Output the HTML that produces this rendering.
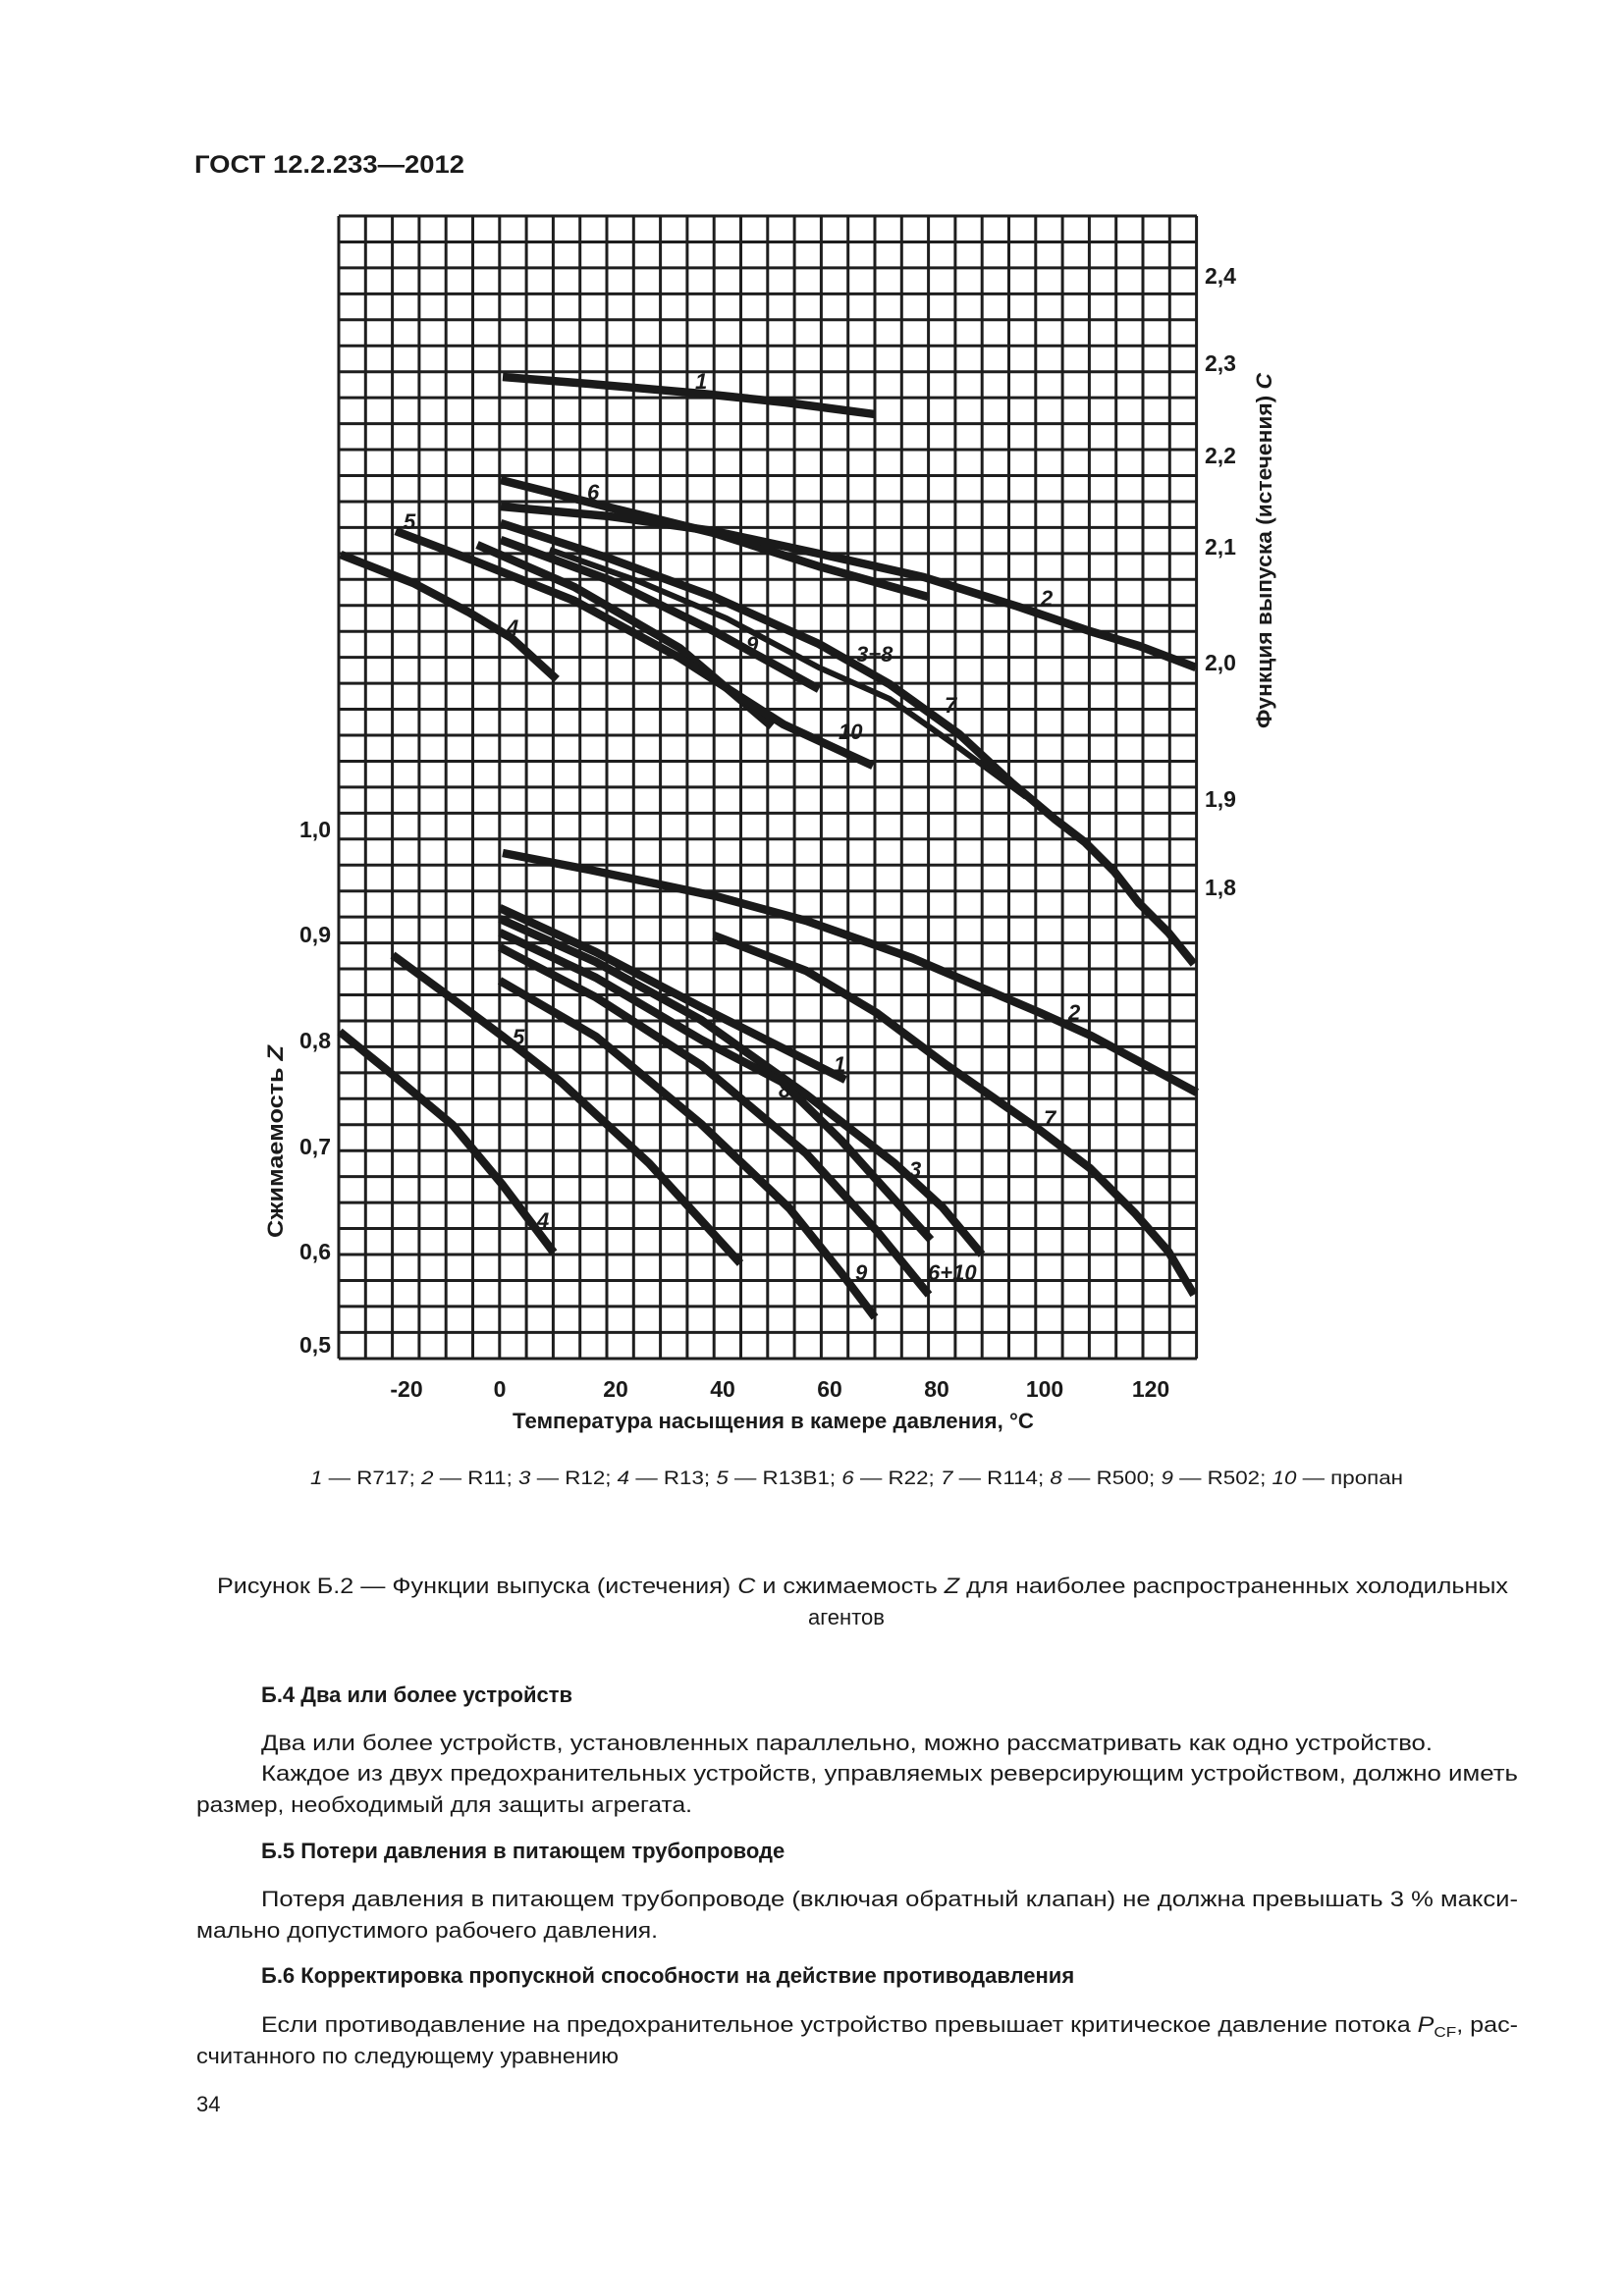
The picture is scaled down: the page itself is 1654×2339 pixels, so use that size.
<!DOCTYPE html>
<html><head><meta charset="utf-8"><style>
html,body{margin:0;padding:0;background:#fff}
svg{display:block}
text{font-family:"Liberation Sans",Arial,sans-serif;fill:#1a1a1a}
.b{font-weight:bold}
.lab{font-weight:bold;font-style:italic;font-size:22px}
.tk{font-weight:bold;font-size:23px}
.body{font-size:22px}
</style></head><body>
<svg width="1654" height="2339" viewBox="0 0 1654 2339" xmlns="http://www.w3.org/2000/svg">
<rect width="1654" height="2339" fill="#fff"/>
<text x="198" y="176" class="b" font-size="25" textLength="275" lengthAdjust="spacingAndGlyphs">ГОСТ 12.2.233—2012</text>

<g stroke="#1e1e1e" stroke-width="3">
<line x1="345" y1="220" x2="345" y2="1384"/><line x1="372.3" y1="220" x2="372.3" y2="1384"/><line x1="399.6" y1="220" x2="399.6" y2="1384"/><line x1="426.9" y1="220" x2="426.9" y2="1384"/><line x1="454.2" y1="220" x2="454.2" y2="1384"/><line x1="481.5" y1="220" x2="481.5" y2="1384"/><line x1="508.8" y1="220" x2="508.8" y2="1384"/><line x1="536.1" y1="220" x2="536.1" y2="1384"/><line x1="563.4" y1="220" x2="563.4" y2="1384"/><line x1="590.7" y1="220" x2="590.7" y2="1384"/><line x1="618" y1="220" x2="618" y2="1384"/><line x1="645.3" y1="220" x2="645.3" y2="1384"/><line x1="672.6" y1="220" x2="672.6" y2="1384"/><line x1="699.9" y1="220" x2="699.9" y2="1384"/><line x1="727.2" y1="220" x2="727.2" y2="1384"/><line x1="754.5" y1="220" x2="754.5" y2="1384"/><line x1="781.8" y1="220" x2="781.8" y2="1384"/><line x1="809.1" y1="220" x2="809.1" y2="1384"/><line x1="836.4" y1="220" x2="836.4" y2="1384"/><line x1="863.7" y1="220" x2="863.7" y2="1384"/><line x1="891" y1="220" x2="891" y2="1384"/><line x1="918.3" y1="220" x2="918.3" y2="1384"/><line x1="945.6" y1="220" x2="945.6" y2="1384"/><line x1="972.9" y1="220" x2="972.9" y2="1384"/><line x1="1000.2" y1="220" x2="1000.2" y2="1384"/><line x1="1027.5" y1="220" x2="1027.5" y2="1384"/><line x1="1054.8" y1="220" x2="1054.8" y2="1384"/><line x1="1082.1" y1="220" x2="1082.1" y2="1384"/><line x1="1109.4" y1="220" x2="1109.4" y2="1384"/><line x1="1136.7" y1="220" x2="1136.7" y2="1384"/><line x1="1164" y1="220" x2="1164" y2="1384"/><line x1="1191.3" y1="220" x2="1191.3" y2="1384"/><line x1="1218.6" y1="220" x2="1218.6" y2="1384"/>
<line x1="345" x2="1219" y1="220" y2="220"/><line x1="345" x2="1219" y1="246.45" y2="246.45"/><line x1="345" x2="1219" y1="272.9" y2="272.9"/><line x1="345" x2="1219" y1="299.35" y2="299.35"/><line x1="345" x2="1219" y1="325.8" y2="325.8"/><line x1="345" x2="1219" y1="352.25" y2="352.25"/><line x1="345" x2="1219" y1="378.7" y2="378.7"/><line x1="345" x2="1219" y1="405.15" y2="405.15"/><line x1="345" x2="1219" y1="431.6" y2="431.6"/><line x1="345" x2="1219" y1="458.05" y2="458.05"/><line x1="345" x2="1219" y1="484.5" y2="484.5"/><line x1="345" x2="1219" y1="510.95" y2="510.95"/><line x1="345" x2="1219" y1="537.4" y2="537.4"/><line x1="345" x2="1219" y1="563.85" y2="563.85"/><line x1="345" x2="1219" y1="590.3" y2="590.3"/><line x1="345" x2="1219" y1="616.75" y2="616.75"/><line x1="345" x2="1219" y1="643.2" y2="643.2"/><line x1="345" x2="1219" y1="669.65" y2="669.65"/><line x1="345" x2="1219" y1="696.1" y2="696.1"/><line x1="345" x2="1219" y1="722.55" y2="722.55"/><line x1="345" x2="1219" y1="749" y2="749"/><line x1="345" x2="1219" y1="775.45" y2="775.45"/><line x1="345" x2="1219" y1="801.9" y2="801.9"/><line x1="345" x2="1219" y1="828.35" y2="828.35"/><line x1="345" x2="1219" y1="854.8" y2="854.8"/><line x1="345" x2="1219" y1="881.25" y2="881.25"/><line x1="345" x2="1219" y1="907.7" y2="907.7"/><line x1="345" x2="1219" y1="934.15" y2="934.15"/><line x1="345" x2="1219" y1="960.6" y2="960.6"/><line x1="345" x2="1219" y1="987.05" y2="987.05"/><line x1="345" x2="1219" y1="1013.5" y2="1013.5"/><line x1="345" x2="1219" y1="1039.95" y2="1039.95"/><line x1="345" x2="1219" y1="1066.4" y2="1066.4"/><line x1="345" x2="1219" y1="1092.85" y2="1092.85"/><line x1="345" x2="1219" y1="1119.3" y2="1119.3"/><line x1="345" x2="1219" y1="1145.75" y2="1145.75"/><line x1="345" x2="1219" y1="1172.2" y2="1172.2"/><line x1="345" x2="1219" y1="1198.65" y2="1198.65"/><line x1="345" x2="1219" y1="1225.1" y2="1225.1"/><line x1="345" x2="1219" y1="1251.55" y2="1251.55"/><line x1="345" x2="1219" y1="1278" y2="1278"/><line x1="345" x2="1219" y1="1304.45" y2="1304.45"/><line x1="345" x2="1219" y1="1330.9" y2="1330.9"/><line x1="345" x2="1219" y1="1357.35" y2="1357.35"/><line x1="345" x2="1219" y1="1384" y2="1384"/>
</g>

<g stroke="#1a1a1a" stroke-width="8.5" fill="none" stroke-linejoin="round">
<polyline points="512,384 600,391 715,401 800,410 891,422"/>
<polyline points="510,489 617,516 727,543 834,577 945,608"/>
<polyline points="510,516 621,526 727,541 834,564 941,588 1037,618 1110,643 1160,658 1218,680"/>
<polyline points="510,533 621,569 727,608 834,656 906,697 977,748 1031,798 1075,835 1105,858 1135,888 1160,920 1190,950 1216,982"/>
<polyline points="560,560 650,592 740,630 834,680 906,712 977,762 1045,812" stroke-width="6"/>
<polyline points="510,550 621,591 727,643 834,702"/>
<polyline points="486,555 585,598 692,660 786,740"/>
<polyline points="403,541 482,571 585,612 692,670 798,738 889,780"/>
<polyline points="347,565 421,594 478,624 521,650 567,692"/>
<polyline points="512,869 600,886 729,913 821,938 929,976 1060,1032 1111,1055 1219,1113"/>
<polyline points="727,953 821,989 893,1032 964,1085 1060,1152 1110,1190 1156,1236 1190,1275 1216,1319"/>
<polyline points="509,925 607,970 714,1026 861,1100"/>
<polyline points="509,936 607,980 714,1039 821,1115 911,1185 960,1230 1000,1278"/>
<polyline points="509,950 607,996 714,1059 796,1102 857,1162 900,1210 948,1263"/>
<polyline points="509,965 607,1016 714,1085 821,1175 893,1254 946,1319"/>
<polyline points="509,999 607,1056 714,1145 804,1231 857,1297 891,1342"/>
<polyline points="400,973 460,1017 511,1055 571,1102 661,1185 754,1287"/>
<polyline points="346,1051 400,1095 461,1146 511,1206 564,1276"/>
</g>

<g class="lab">
<text x="708" y="396">1</text>
<text x="598" y="509">6</text>
<text x="411" y="539">5</text>
<text x="1060" y="617">2</text>
<text x="516" y="647">4</text>
<text x="760" y="664">9</text>
<text x="872" y="674">3+8</text>
<text x="962" y="726">7</text>
<text x="854" y="753">10</text>
<text x="1088" y="1039">2</text>
<text x="522" y="1064">5</text>
<text x="849" y="1092">1</text>
<text x="793" y="1118">8</text>
<text x="1063" y="1147">7</text>
<text x="926" y="1199">3</text>
<text x="547" y="1251">4</text>
<text x="871" y="1304">9</text>
<text x="945" y="1304">6+10</text>
</g>

<g class="tk" text-anchor="end">
<text x="337" y="853">1,0</text>
<text x="337" y="960">0,9</text>
<text x="337" y="1068">0,8</text>
<text x="337" y="1176">0,7</text>
<text x="337" y="1283">0,6</text>
<text x="337" y="1378">0,5</text>
</g>
<g class="tk">
<text x="1227" y="289">2,4</text>
<text x="1227" y="378">2,3</text>
<text x="1227" y="472">2,2</text>
<text x="1227" y="565">2,1</text>
<text x="1227" y="683">2,0</text>
<text x="1227" y="822">1,9</text>
<text x="1227" y="912">1,8</text>
</g>
<g class="tk" text-anchor="middle">
<text x="414" y="1423">-20</text>
<text x="509" y="1423">0</text>
<text x="627" y="1423">20</text>
<text x="736" y="1423">40</text>
<text x="845" y="1423">60</text>
<text x="954" y="1423">80</text>
<text x="1064" y="1423">100</text>
<text x="1172" y="1423">120</text>
</g>
<text x="522" y="1455" class="b" font-size="22" textLength="531" lengthAdjust="spacingAndGlyphs">Температура насыщения в камере давления, °С</text>
<text transform="translate(1295,742) rotate(-90)" class="b" font-size="22" textLength="362" lengthAdjust="spacingAndGlyphs">Функция выпуска (истечения) <tspan font-style="italic">C</tspan></text>
<text transform="translate(288,1261) rotate(-90)" class="b" font-size="22" textLength="196" lengthAdjust="spacingAndGlyphs">Сжимаемость <tspan font-style="italic">Z</tspan></text>

<text x="316" y="1512" font-size="19" textLength="1113" lengthAdjust="spacingAndGlyphs"><tspan font-style="italic">1</tspan> — R717; <tspan font-style="italic">2</tspan> — R11; <tspan font-style="italic">3</tspan> — R12; <tspan font-style="italic">4</tspan> — R13; <tspan font-style="italic">5</tspan> — R13B1; <tspan font-style="italic">6</tspan> — R22; <tspan font-style="italic">7</tspan> — R114; <tspan font-style="italic">8</tspan> — R500; <tspan font-style="italic">9</tspan> — R502; <tspan font-style="italic">10</tspan> — пропан</text>

<text x="221" y="1623" class="body" textLength="1315" lengthAdjust="spacingAndGlyphs">Рисунок Б.2 — Функции выпуска (истечения) <tspan font-style="italic">C</tspan> и сжимаемость <tspan font-style="italic">Z</tspan> для наиболее распространенных холодильных</text>
<text x="862" y="1655" class="body" text-anchor="middle">агентов</text>

<text x="266" y="1734" class="body b">Б.4 Два или более устройств</text>
<text x="266" y="1783" class="body" textLength="1193" lengthAdjust="spacingAndGlyphs">Два или более устройств, установленных параллельно, можно рассматривать как одно устройство.</text>
<text x="266" y="1814" class="body" textLength="1280" lengthAdjust="spacingAndGlyphs">Каждое из двух предохранительных устройств, управляемых реверсирующим устройством, должно иметь</text>
<text x="200" y="1846" class="body" textLength="505" lengthAdjust="spacingAndGlyphs">размер, необходимый для защиты агрегата.</text>
<text x="266" y="1893" class="body b">Б.5 Потери давления в питающем трубопроводе</text>
<text x="266" y="1942" class="body" textLength="1280" lengthAdjust="spacingAndGlyphs">Потеря давления в питающем трубопроводе (включая обратный клапан) не должна превышать 3 % макси-</text>
<text x="200" y="1974" class="body" textLength="470" lengthAdjust="spacingAndGlyphs">мально допустимого рабочего давления.</text>
<text x="266" y="2020" class="body b">Б.6 Корректировка пропускной способности на действие противодавления</text>
<text x="266" y="2070" class="body" textLength="1280" lengthAdjust="spacingAndGlyphs">Если противодавление на предохранительное устройство превышает критическое давление потока <tspan font-style="italic">P</tspan><tspan font-size="15" dy="5">CF</tspan><tspan dy="-5">, рас-</tspan></text>
<text x="200" y="2102" class="body" textLength="430" lengthAdjust="spacingAndGlyphs">считанного по следующему уравнению</text>
<text x="200" y="2151" class="body">34</text>
</svg>
</body></html>
